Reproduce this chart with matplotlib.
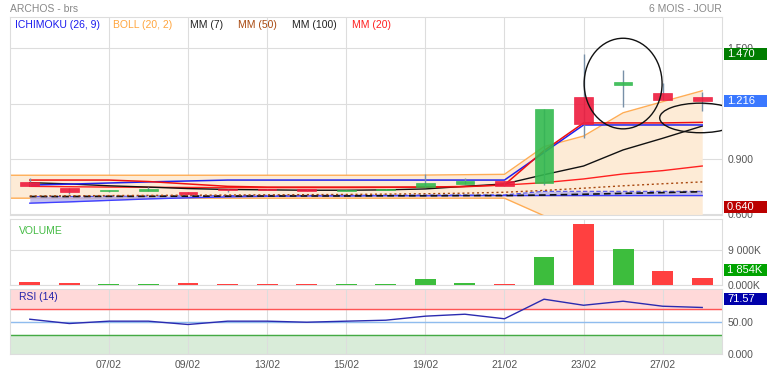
import numpy as np
import matplotlib
matplotlib.use("Agg")
import matplotlib.pyplot as plt
from matplotlib.patches import Rectangle, Ellipse

plt.rcParams['font.family'] = ['Liberation Sans', 'DejaVu Sans']

# ---------------------------------------------------------------- données
dates = ['05/02', '06/02', '07/02', '08/02', '09/02', '12/02', '13/02', '14/02', '15/02',
         '16/02', '19/02', '20/02', '21/02', '22/02', '23/02', '26/02', '27/02', '28/02']
opens = [0.774, 0.743, 0.726, 0.729, 0.722, 0.738, 0.738, 0.740, 0.726,
         0.730, 0.750, 0.767, 0.781, 0.769, 1.234, 1.302, 1.255, 1.236]
highs = [0.796, 0.743, 0.733, 0.747, 0.722, 0.738, 0.738, 0.740, 0.732,
         0.736, 0.819, 0.796, 0.781, 1.169, 1.470, 1.381, 1.309, 1.264]
lows = [0.752, 0.711, 0.724, 0.729, 0.713, 0.720, 0.731, 0.727, 0.726,
        0.730, 0.750, 0.767, 0.754, 0.760, 1.012, 1.179, 1.219, 1.161]
closes = [0.752, 0.720, 0.732, 0.738, 0.713, 0.731, 0.731, 0.727, 0.732,
          0.736, 0.772, 0.783, 0.754, 1.169, 1.088, 1.315, 1.220, 1.216]

volumes = [690, 510, 260, 260, 430, 150, 150, 200, 260,
           200, 1540, 430, 260, 7280, 15680, 9260, 3680, 1854]  # en milliers

boll_up = [0.812, 0.812, 0.812, 0.812, 0.812, 0.812, 0.812, 0.812, 0.812,
           0.812, 0.813, 0.815, 0.817, 0.967, 1.024, 1.150, 1.210, 1.269]
boll_low = [0.688, 0.688, 0.688, 0.688, 0.688, 0.688, 0.688, 0.688, 0.688,
            0.688, 0.688, 0.688, 0.688, 0.593, 0.560, 0.488, 0.464, 0.455]

tenkan = [0.786, 0.786, 0.786, 0.778, 0.765, 0.752, 0.748, 0.748, 0.748,
          0.748, 0.748, 0.750, 0.760, 0.945, 1.095, 1.095, 1.095, 1.098]
kijun = [0.759, 0.764, 0.770, 0.776, 0.781, 0.786, 0.786, 0.786, 0.786,
         0.786, 0.786, 0.786, 0.786, 0.935, 1.084, 1.084, 1.084, 1.084]
span_a = [0.697, 0.697, 0.698, 0.699, 0.700, 0.702, 0.703, 0.703, 0.704,
          0.704, 0.705, 0.705, 0.706, 0.725, 0.725, 0.725, 0.725, 0.725]
span_b = [0.661, 0.668, 0.676, 0.684, 0.690, 0.695, 0.698, 0.700, 0.700,
          0.701, 0.701, 0.702, 0.702, 0.702, 0.702, 0.702, 0.702, 0.702]

mm7 = [0.772, 0.765, 0.755, 0.748, 0.740, 0.735, 0.733, 0.731, 0.731,
       0.733, 0.738, 0.752, 0.765, 0.815, 0.862, 0.949, 1.012, 1.078]
mm20 = [0.752, 0.750, 0.748, 0.747, 0.746, 0.745, 0.745, 0.745, 0.745,
        0.746, 0.748, 0.752, 0.759, 0.772, 0.792, 0.819, 0.837, 0.862]
mm50 = [0.700, 0.701, 0.702, 0.703, 0.704, 0.705, 0.706, 0.707, 0.708,
        0.710, 0.712, 0.715, 0.720, 0.730, 0.742, 0.755, 0.766, 0.776]
mm100 = [0.697, 0.697, 0.698, 0.698, 0.699, 0.699, 0.700, 0.700, 0.700,
         0.701, 0.701, 0.702, 0.702, 0.705, 0.709, 0.714, 0.718, 0.723]

rsi = [53.5, 46.9, 50.5, 50.5, 45.4, 50.5, 50.5, 48.9, 50.5,
       52.0, 58.2, 61.2, 54.2, 84.3, 75.0, 81.2, 73.5, 71.57]

legend_items = [('ICHIMOKU (26, 9)', '#1a1aee'), ('BOLL (20, 2)', '#ffa53d'),
                ('MM (7)', '#222222'), ('MM (50)', '#a8480f'),
                ('MM (100)', '#222222'), ('MM (20)', '#ff2020')]

# ---------------------------------------------------------------- figure
W, H = 767, 375
fig = plt.figure(figsize=(W / 100, H / 100), dpi=100)


def panel(top, bottom):
    return fig.add_axes([10 / W, 1 - bottom / H, 712 / W, (bottom - top) / H])


ax = panel(17, 215)
axv = panel(219, 285)
axr = panel(289, 354)

x = np.arange(len(dates))
grid_c = '#dddddd'
for a in (ax, axv, axr):
    a.set_xlim(-0.5, len(dates) - 0.5)
    for s in a.spines.values():
        s.set_color(grid_c)
    a.set_xticks(x[2::2])
    a.tick_params(length=0, labelsize=7.5, labelcolor='#555555', pad=4)
    a.yaxis.tick_right()
    a.grid(True, color=grid_c, lw=0.8)
    a.set_axisbelow(True)
ax.set_xticklabels([])
axv.set_xticklabels([])
axr.set_xticklabels([dates[i] for i in x[2::2]])

# ---------------------------------------------------------------- cours
ax.set_ylim(0.597, 1.668)
ax.set_yticks([0.6, 0.9, 1.2, 1.5])
# 1.200 est entièrement caché par l'étiquette du dernier cours
ax.set_yticklabels(['0.600', '0.900', '', '1.500'])

xe = np.r_[-0.5, x]
up_e = np.r_[boll_up[0], boll_up]
lo_e = np.r_[boll_low[0], boll_low]
ax.fill_between(xe, lo_e, up_e, color='#fdebd6', lw=0, zorder=1)
ax.plot(xe, up_e, color='#ffad55', lw=1, zorder=2)
ax.plot(xe, lo_e, color='#ffad55', lw=1, zorder=2)
ax.plot([-0.5, -0.5], [lo_e[0], up_e[0]], color='#ffad55', lw=1.5, zorder=2)

ax.fill_between(x, span_b, span_a, color='#b4b0ea', alpha=0.8, lw=0, zorder=2)
ax.plot(x, span_a, color='#5050ee', lw=0.8, ls=(0, (4, 2)), zorder=3)
ax.plot(x, span_b, color='#4040ff', lw=1, zorder=3)

ax.plot(x, mm100, color='#111111', lw=1.2, ls=(0, (4, 2.5)), zorder=3)
ax.plot(x, mm50, color='#a8480f', lw=1, ls=(0, (1.5, 2)), zorder=3)
ax.plot(x, mm20, color='#ff2020', lw=1, zorder=4)
ax.plot(x, mm7, color='#111111', lw=1, zorder=4)
ax.plot(x, kijun, color='#2020ee', lw=1.1, zorder=4)
ax.plot(x, tenkan, color='#ee1010', lw=1.1, zorder=4)

up_c, down_c = '#33b94f', '#ee1c3e'
bw = 0.47
for i in x:
    o, h, l, c = opens[i], highs[i], lows[i], closes[i]
    col = up_c if c >= o else down_c
    ax.vlines(i, l, h, color='#7890a8', lw=1, zorder=5)
    lo_b, hi_b = min(o, c), max(o, c)
    ax.add_patch(Rectangle((i - bw / 2, lo_b), bw, max(hi_b - lo_b, 0.004),
                           facecolor=col, edgecolor=col, lw=0.5, alpha=0.9, zorder=6))

ax.add_patch(Ellipse((15, 1.308), 1.97, 0.49, fill=False, ec='#111111', lw=1, zorder=7))
ax.add_patch(Ellipse((16.95, 1.122), 2.05, 0.16, fill=False, ec='#111111', lw=1, zorder=7))

lx = [15, 113, 190, 238, 292, 352]
for (txt, col), px in zip(legend_items, lx):
    fig.text(px / W, 1 - 25 / H, txt, color=col, fontsize=7.5, va='center', ha='left')

fig.text(10 / W, 1 - 9 / H, 'ARCHOS - brs', color='#888888', fontsize=7.5, va='center')
fig.text(722 / W, 1 - 9 / H, '6 MOIS - JOUR', color='#888888', fontsize=7.5,
         va='center', ha='right')

# ---------------------------------------------------------------- volume
axv.set_ylim(0, 16970)
axv.set_yticks([0, 9000])
axv.set_yticklabels(['0.000K', '9 000K'])
vcol = ['#3dbd3d' if closes[i] >= opens[i] else '#ff4040' for i in x]
axv.bar(x, volumes, width=0.53, color=vcol, zorder=3)
axv.text(0.012, 0.82, 'VOLUME', transform=axv.transAxes, color='#44bb44', fontsize=7.5,
         va='center')

# ---------------------------------------------------------------- RSI
axr.set_ylim(0, 100)
axr.set_yticks([0, 50])
axr.set_yticklabels(['0.000', '50.00'])
axr.axhspan(70, 100, color='#ffd9d9', zorder=0)
axr.axhspan(0, 30, color='#d9ecd9', zorder=0)
axr.axhline(70, color='#ff5555', lw=1, zorder=2)
axr.axhline(50, color='#8fbcee', lw=1, zorder=2)
axr.axhline(30, color='#44aa44', lw=1, zorder=2)
axr.plot(x, rsi, color='#2b2bb0', lw=1, zorder=4)
axr.text(0.012, 0.87, 'RSI (14)', transform=axr.transAxes, color='#2222aa', fontsize=7.5,
         va='center')


# ---------------------------------------------------------------- étiquettes
def tag(a, value, text, color, dy=0):
    fig.canvas.draw()
    yd = a.transData.transform((0, value))[1] + dy
    fig.patches.append(Rectangle((724 / W, (yd - 6) / H), 43 / W, 12 / H,
                                 transform=fig.transFigure, facecolor=color,
                                 edgecolor='none', zorder=10))
    fig.text(727 / W, yd / H, text, color='white', fontsize=8, va='center',
             ha='left', zorder=11)


tag(ax, highs[14], '1.470', '#007d00')
tag(ax, closes[-1], '1.216', '#3a78ff')
tag(ax, 0.640, '0.640', '#bb0000')
tag(axv, volumes[-1], '1 854K', '#00a300', dy=8)
tag(axr, rsi[-1], '71.57', '#0000aa', dy=8)

fig.savefig('out.png', dpi=100)
